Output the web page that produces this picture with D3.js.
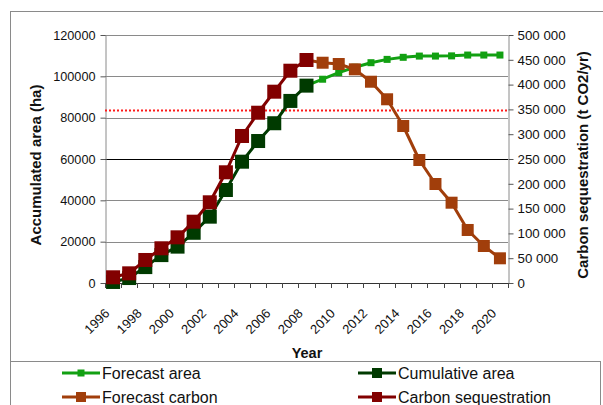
<!DOCTYPE html>
<html>
<head>
<meta charset="utf-8">
<script src="https://cdn.jsdelivr.net/npm/d3@7"></script>
<style>
  html, body { margin: 0; padding: 0; background: #fff; }
  svg { display: block; font-family: "Liberation Sans", Arial, sans-serif; }
</style>
</head>
<body>
<svg id="chart" width="603" height="405"></svg>
<script>
// ---- data ----
const years = [1996,1997,1998,1999,2000,2001,2002,2003,2004,2005,2006,2007,2008,2009,2010,2011,2012,2013,2014,2015,2016,2017,2018,2019,2020];
const yearLabels = ["1996","1998","2000","2002","2004","2006","2008","2010","2012","2014","2016","2018","2020"];
const histYears = [1996,1997,1998,1999,2000,2001,2002,2003,2004,2005,2006,2007,2008];
const forecastYears = [2008,2009,2010,2011,2012,2013,2014,2015,2016,2017,2018,2019,2020];
const cumulativeArea = [500, 2400, 7700, 13500, 17600, 24300, 32100, 45000, 58700, 68700, 77300, 88100, 95500];
const carbonSeq = [11500, 19500, 46400, 70000, 92100, 123600, 162700, 223200, 296400, 343300, 385700, 428000, 449600];
const forecastArea = [95500, 98600, 101800, 104400, 106600, 108200, 109200, 109800, 109800, 109900, 110300, 110300, 110300];
const forecastCarbon = [449600, 444100, 441500, 430800, 405800, 370400, 316500, 248000, 199600, 161900, 106900, 74600, 49800];
const thresholdCarbon = 348000;
const leftTicks = [0, 20000, 40000, 60000, 80000, 100000, 120000];
const rightTicks = [0, 50000, 100000, 150000, 200000, 250000, 300000, 350000, 400000, 450000, 500000];
const seriesNames = ["Forecast area", "Cumulative area", "Forecast carbon", "Carbon sequestration"];

// ---- layout ----
const svg = d3.select("#chart");
const L = 105, R = 508, T = 35, B = 283;
const x = d3.scaleBand().domain(years).range([L, R]);
const yL = d3.scaleLinear().domain([0, 120000]).range([B, T]);
const yR = d3.scaleLinear().domain([0, 500000]).range([B, T]);
const xc = d => x(d) + x.bandwidth() / 2;

// outer border
svg.append("rect").attr("x", 10.5).attr("y", 11.5).attr("width", 620).attr("height", 420)
  .attr("fill", "none").attr("stroke", "#8a8a8a").attr("stroke-width", 1);

// gridlines
svg.append("g").selectAll("line").data(leftTicks.filter(v => v > 0)).join("line")
  .attr("x1", L).attr("x2", R)
  .attr("y1", d => Math.round(yL(d)) + 0.5).attr("y2", d => Math.round(yL(d)) + 0.5)
  .attr("stroke", d => d === 60000 ? "#000" : "#8a8a8a").attr("stroke-width", 1);

// left axis
const gL = svg.append("g").attr("transform", `translate(${L + 0.5},0)`)
  .call(d3.axisLeft(yL).tickValues(leftTicks).tickFormat(d3.format("d")).tickSize(5).tickSizeOuter(0));
gL.select(".domain").attr("stroke", "#8a8a8a");
gL.selectAll(".tick line").attr("stroke", "#555");
gL.selectAll("text").attr("font-size", 12.7).attr("fill", "#111").attr("x", -10).attr("font-family", "Liberation Sans, Arial, sans-serif");

// right axis
const gR = svg.append("g").attr("transform", `translate(${R + 0.5},0)`)
  .call(d3.axisRight(yR).tickValues(rightTicks)
    .tickFormat(d => d === 0 ? "0" : d3.format(",")(d).replace(/,/g, " ")).tickSize(5).tickSizeOuter(0));
gR.select(".domain").attr("stroke", "#8a8a8a");
gR.selectAll(".tick line").attr("stroke", "#555");
gR.selectAll("text").attr("font-size", 13.3).attr("fill", "#111").attr("x", 9).attr("font-family", "Liberation Sans, Arial, sans-serif");

// bottom axis
svg.append("line").attr("x1", L).attr("x2", R).attr("y1", B + 0.5).attr("y2", B + 0.5).attr("stroke", "#333");
const bounds = years.map(d => x(d)).concat([R]);
svg.append("g").selectAll("line").data(bounds).join("line")
  .attr("x1", d => Math.round(d) + 0.5).attr("x2", d => Math.round(d) + 0.5)
  .attr("y1", B).attr("y2", B + 5).attr("stroke", "#444");
svg.append("g").selectAll("text").data(yearLabels).join("text")
  .attr("transform", d => `translate(${xc(+d) - 6},${B + 28}) rotate(-45)`)
  .attr("text-anchor", "end").attr("dy", "0.35em")
  .attr("font-size", 13).attr("fill", "#111").text(d => d);

// axis titles
svg.append("text").attr("transform", `translate(41,165) rotate(-90)`)
  .attr("text-anchor", "middle").attr("font-size", 15).attr("font-weight", "bold").attr("fill", "#111")
  .text("Accumulated area (ha)");
svg.append("text").attr("transform", `translate(588,165) rotate(-90)`)
  .attr("text-anchor", "middle").attr("font-size", 15).attr("font-weight", "bold").attr("fill", "#111")
  .text("Carbon sequestration (t CO2/yr)");
svg.append("text").attr("x", 307).attr("y", 358)
  .attr("text-anchor", "middle").attr("font-size", 14.5).attr("font-weight", "bold").attr("fill", "#111")
  .text("Year");

// threshold line
svg.append("line").attr("x1", L).attr("x2", R)
  .attr("y1", yR(thresholdCarbon)).attr("y2", yR(thresholdCarbon))
  .attr("stroke", "#ff1a1a").attr("stroke-width", 2).attr("stroke-dasharray", "2,2");

// series
const series = [
  { name: seriesNames[0], xs: forecastYears, vs: forecastArea, y: yL, color: "#12a012", size: 7, width: 3 },
  { name: seriesNames[1], xs: histYears, vs: cumulativeArea, y: yL, color: "#003a00", size: 14, width: 3 },
  { name: seriesNames[2], xs: forecastYears, vs: forecastCarbon, y: yR, color: "#a13e0b", size: 12, width: 3 },
  { name: seriesNames[3], xs: histYears, vs: carbonSeq, y: yR, color: "#820000", size: 14, width: 3 }
];
series.forEach(s => {
  const pts = s.xs.map((yr, i) => [xc(yr), s.y(s.vs[i])]);
  svg.append("path").attr("d", d3.line()(pts)).attr("fill", "none")
    .attr("stroke", s.color).attr("stroke-width", s.width).attr("stroke-linejoin", "round");
  svg.append("g").selectAll("rect").data(pts).join("rect")
    .attr("x", d => d[0] - s.size / 2).attr("y", d => d[1] - s.size / 2)
    .attr("width", s.size).attr("height", s.size).attr("fill", s.color);
});

// legend
svg.append("rect").attr("x", 10.5).attr("y", 361.5).attr("width", 590).attr("height", 60)
  .attr("fill", "#fff").attr("stroke", "#8a8a8a");
const legPos = [[62, 373], [358, 373], [62, 397], [358, 397]];
const legSize = [7, 10, 10, 10];
series.forEach((s, i) => {
  const [lx, ly] = legPos[i];
  const g = svg.append("g");
  g.append("line").attr("x1", lx).attr("x2", lx + 38).attr("y1", ly).attr("y2", ly)
    .attr("stroke", s.color).attr("stroke-width", 3);
  g.append("rect").attr("x", lx + 19 - legSize[i] / 2).attr("y", ly - legSize[i] / 2)
    .attr("width", legSize[i]).attr("height", legSize[i]).attr("fill", s.color);
  g.append("text").attr("x", lx + 40).attr("y", ly).attr("dy", "0.36em")
    .attr("font-size", 16).attr("fill", "#111").text(s.name);
});
</script>
</body>
</html>
